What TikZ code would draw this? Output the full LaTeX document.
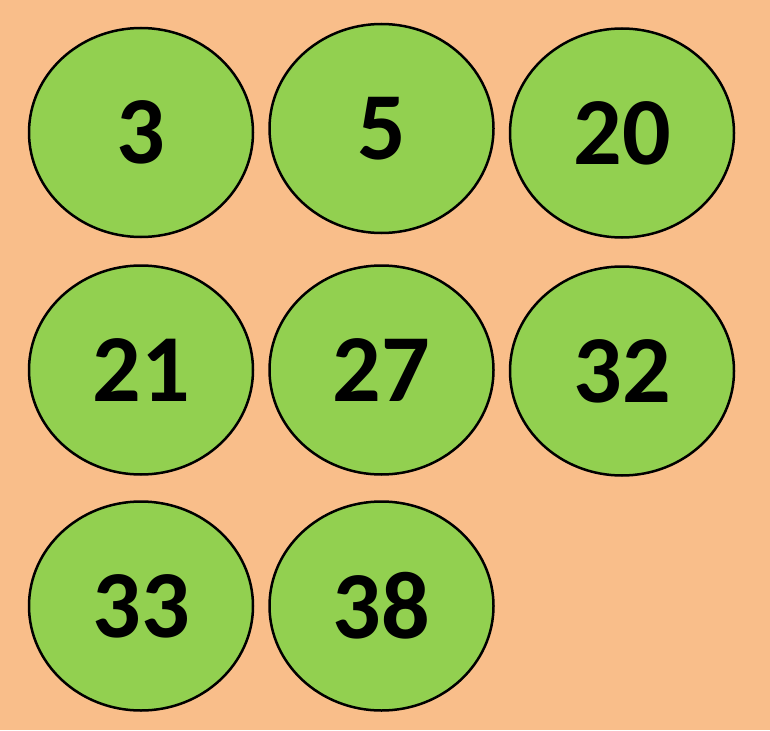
\documentclass[tikz,border=0pt]{standalone}
\usepackage{fontspec}
\setmainfont{Carlito}
\usetikzlibrary{shapes.geometric}
\definecolor{bgorange}{HTML}{F9BE8A}
\definecolor{ballgreen}{HTML}{92D050}
\begin{document}
\begin{tikzpicture}[x=1pt,y=-1pt,
  ball/.style={ellipse,draw=black,fill=ballgreen,line width=2.5pt,
    minimum width=224pt,minimum height=209pt,inner sep=0pt,
    font=\fontsize{96}{96}\selectfont\bfseries}]
\fill[bgorange] (0,0) rectangle (770,730);
\useasboundingbox (0,0) rectangle (770,730);
\node[ball] (n3)  at (141,132.5) {3};
\node[ball] (n5)  at (381.5,128.5) {5};
\node[ball] (n20) at (622,133) {20};
\node[ball] (n21) at (141,370) {21};
\node[ball] (n27) at (381.5,370) {27};
\node[ball] (n32) at (622,371) {32};
\node[ball] (n33) at (141,606) {33};
\node[ball] (n38) at (381.5,606) {38};
\end{tikzpicture}
\end{document}
